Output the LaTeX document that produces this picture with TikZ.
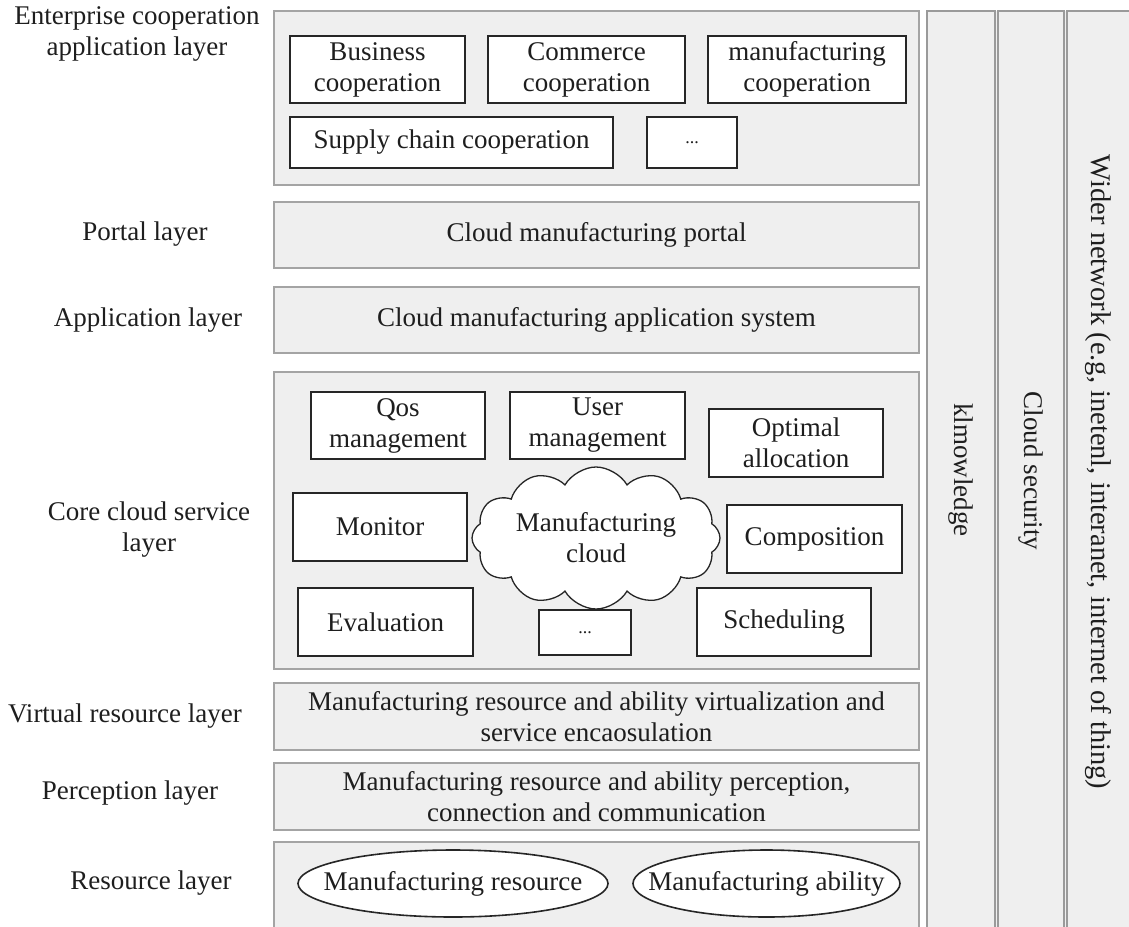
\documentclass[tikz,border=0pt]{standalone}
\usepackage{fontspec}
\setmainfont{Liberation Serif}
\usetikzlibrary{shapes.symbols,shapes.geometric}

\definecolor{layerfill}{HTML}{EFEFEF}
\definecolor{layerline}{HTML}{A4A4A4}
\definecolor{itemline}{HTML}{262626}
\definecolor{colline}{HTML}{9A9A9A}
\definecolor{txt}{HTML}{1E1E1E}

\tikzset{
  base/.style={font=\fontsize{27}{31}\selectfont, text=txt, align=center, inner sep=0pt},
  layerbox/.style={base, draw=layerline, fill=layerfill, line width=1.4pt, rectangle},
  itembox/.style={base, draw=itemline, fill=white, line width=1.8pt, rectangle},
  colline/.style={draw=colline, line width=2pt},
  sidelabel/.style={base},
  coltext/.style={base, rotate=-90},
  resoval/.style={ellipse, draw=itemline, fill=white, line width=1.6pt, inner sep=0pt,
                  minimum height=67pt},
}

\begin{document}
\begin{tikzpicture}[x=1pt,y=-1pt]
\useasboundingbox (0,0) rectangle (1129,926);
\clip (0,0) rectangle (1129,926);

% ---- vertical cross-cutting columns (open at the bottom and on the far right)
\fill[layerfill] (927,11) rectangle (1140,940);
\path[colline] (927,940) -- (927,11) -- (995,11) -- (995,940);
\path[colline] (998,940) -- (998,11) -- (1064,11) -- (1064,940);
\path[colline] (1067,940) -- (1067,11) -- (1140,11);
\node[coltext] (know) at (961,470) {klmowledge};
\node[coltext] (sec) at (1031,471) {Cloud security};
\node[coltext, font=\fontsize{28.5}{31}\selectfont] (net) at (1098,472) {Wider network (e.g, inetenl, interanet, internet of thing)};

% ---- layer frames
\node[layerbox, minimum width=645pt, minimum height=174pt] (ent) at (596.5,98) {};
\node[layerbox, minimum width=645pt, minimum height=66pt] (portal) at (596.5,235) {Cloud manufacturing portal};
\node[layerbox, minimum width=645pt, minimum height=66pt] (app) at (596.5,320) {Cloud manufacturing application system};
\node[layerbox, minimum width=645pt, minimum height=297pt] (core) at (596.5,520.5) {};
\node[layerbox, minimum width=645pt, minimum height=67pt] (virt) at (596.5,716.5) {Manufacturing resource and ability virtualization and\\service encaosulation};
\node[layerbox, minimum width=645pt, minimum height=67pt] (perc) at (596.5,796.5) {Manufacturing resource and ability perception,\\connection and communication};
\path[draw=layerline, fill=layerfill, line width=1.4pt] (274,940) -- (274,842) -- (919,842) -- (919,940);

% ---- layer names
\node[sidelabel] (lent) at (137,33.5) {Enterprise cooperation\\application layer};
\node[sidelabel] (lportal) at (145,234) {Portal layer};
\node[sidelabel] (lapp) at (148,320) {Application layer};
\node[sidelabel] (lcore) at (149,530) {Core cloud service\\layer};
\node[sidelabel] (lvirt) at (125,716) {Virtual resource layer};
\node[sidelabel] (lperc) at (130,793) {Perception layer};
\node[sidelabel] (lres) at (151,883) {Resource layer};

% ---- enterprise cooperation items
\node[itembox, minimum width=175pt, minimum height=67pt] (bus) at (377.5,69.5) {Business\\cooperation};
\node[itembox, minimum width=197pt, minimum height=67pt] (com) at (586.5,69.5) {Commerce\\cooperation};
\node[itembox, minimum width=198pt, minimum height=67pt] (mfc) at (807,69.5) {manufacturing\\cooperation};
\node[itembox, minimum width=323pt, minimum height=51pt] (sup) at (451.5,142.5) {Supply chain cooperation};
\node[itembox, minimum width=90pt, minimum height=51pt] (edots) at (692,142.5) {\fontsize{18}{20}\selectfont ...};

% ---- core cloud services
\node[cloud, cloud puffs=12, cloud puff arc=120, cloud ignores aspect, draw=itemline, fill=white,
      line width=1.3pt, inner sep=0pt, minimum width=248pt, minimum height=142pt,
      label={[base]center:Manufacturing\\cloud}] (cloud) at (596,538) {};
\node[itembox, minimum width=174pt, minimum height=67pt] (qos) at (398,425.5) {Qos\\management};
\node[itembox, minimum width=175pt, minimum height=67pt] (user) at (597.5,425.5) {User\\management};
\node[itembox, minimum width=174pt, minimum height=68pt] (opt) at (796,443) {Optimal\\allocation};
\node[itembox, minimum width=174pt, minimum height=68pt] (mon) at (380,527) {Monitor};
\node[itembox, minimum width=175pt, minimum height=68pt] (compo) at (814.5,539) {Composition};
\node[itembox, minimum width=175pt, minimum height=68pt] (eval) at (385.5,622) {Evaluation};
\node[itembox, minimum width=92pt, minimum height=45pt] (cdots) at (585,632.5) {\fontsize{18}{20}\selectfont ...};
\node[itembox, minimum width=174pt, minimum height=68pt] (sched) at (784,622) {Scheduling};

% ---- resources
\node[resoval, minimum width=310pt, label={[base]center:Manufacturing resource}] (mres) at (453,883.5) {};
\node[resoval, minimum width=267pt, label={[base]center:Manufacturing ability}] (mabl) at (766.5,883.5) {};
\end{tikzpicture}
\end{document}
